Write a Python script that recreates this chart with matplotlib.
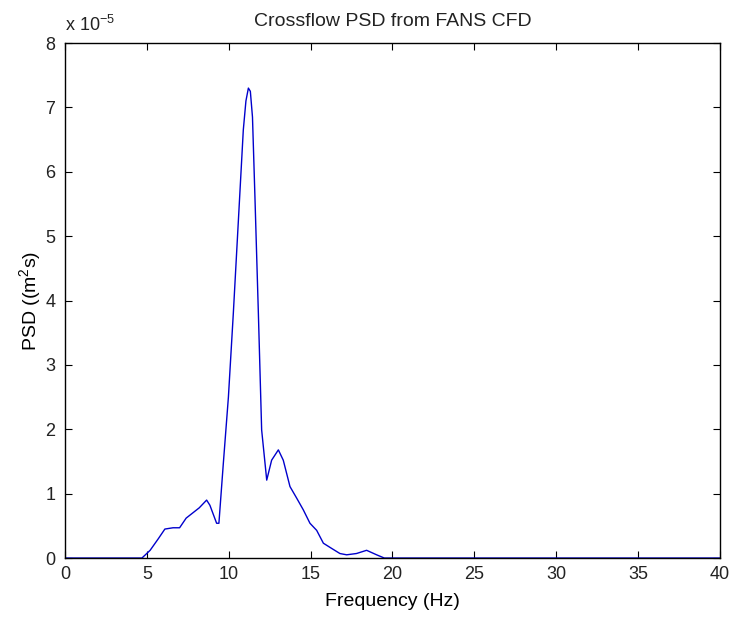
import matplotlib
matplotlib.use("Agg")
import matplotlib.pyplot as plt
import numpy as np

# (frequency in Hz, PSD in units of 1e-5 m^2 s)
freq = [0.0, 4.7, 5.2, 5.7, 6.1, 6.6, 7.0, 7.4, 7.8, 8.2, 8.65, 8.85, 9.26, 9.4,
        9.67, 9.98, 10.28, 10.58, 10.89, 11.05, 11.2, 11.32, 11.45, 11.6, 11.81,
        12.01, 12.32, 12.62, 13.03, 13.33, 13.74, 14.15, 14.55, 14.96, 15.37,
        15.78, 16.28, 16.79, 17.2, 17.8, 18.42, 19.03, 19.5, 40.0]
psd = [0.0, 0.0, 0.12, 0.3, 0.45, 0.47, 0.47, 0.62, 0.70, 0.78, 0.90, 0.82, 0.54,
       0.54, 1.47, 2.50, 3.80, 5.20, 6.65, 7.10, 7.30, 7.25, 6.85, 5.61, 3.80,
       1.99, 1.21, 1.52, 1.68, 1.52, 1.11, 0.93, 0.75, 0.54, 0.43, 0.23, 0.15,
       0.07, 0.05, 0.07, 0.12, 0.05, 0.0, 0.0]
xticks = [0, 5, 10, 15, 20, 25, 30, 35, 40]
yticks = [0, 1, 2, 3, 4, 5, 6, 7, 8]

plt.rcParams['font.family'] = ['Liberation Sans', 'DejaVu Sans']
plt.rcParams['mathtext.fontset'] = 'custom'
plt.rcParams['mathtext.rm'] = 'Liberation Sans'
plt.rcParams['text.color'] = '#222222'
plt.rcParams['xtick.labelcolor'] = '#222222'
plt.rcParams['ytick.labelcolor'] = '#222222'

fig = plt.figure(figsize=(7.35, 6.19), dpi=100)
ax = fig.add_axes([0.0884, 0.0985, 0.8912, 0.832])

ax.plot(freq, np.array(psd) * 1e-5, color='#0000cc', linewidth=1.0)

ax.set_xlim(0, 40)
ax.set_ylim(0, 8e-5)
ax.set_xticks(xticks)
ax.set_yticks([v * 1e-5 for v in yticks])
ax.set_xticklabels([str(v) for v in xticks])
ax.set_yticklabels([str(v) for v in yticks])
ax.tick_params(direction='in', top=True, right=True, length=5, labelsize=13)
ax.tick_params(axis='x', pad=6)
ax.tick_params(axis='y', pad=7)
for s in ax.spines.values():
    s.set_linewidth(1.0)

ax.text(0.0, 1.015, 'x 10$^{-5}$', transform=ax.transAxes, fontsize=13,
        ha='left', va='bottom')
ax.set_title('Crossflow PSD from FANS CFD', fontsize=14, pad=12)
ax.set_xlabel('Frequency (Hz)', fontsize=14, labelpad=7)
ax.set_ylabel('PSD ((m$^2$s)', fontsize=14, labelpad=1)

fig.savefig('out.png', dpi=100)
